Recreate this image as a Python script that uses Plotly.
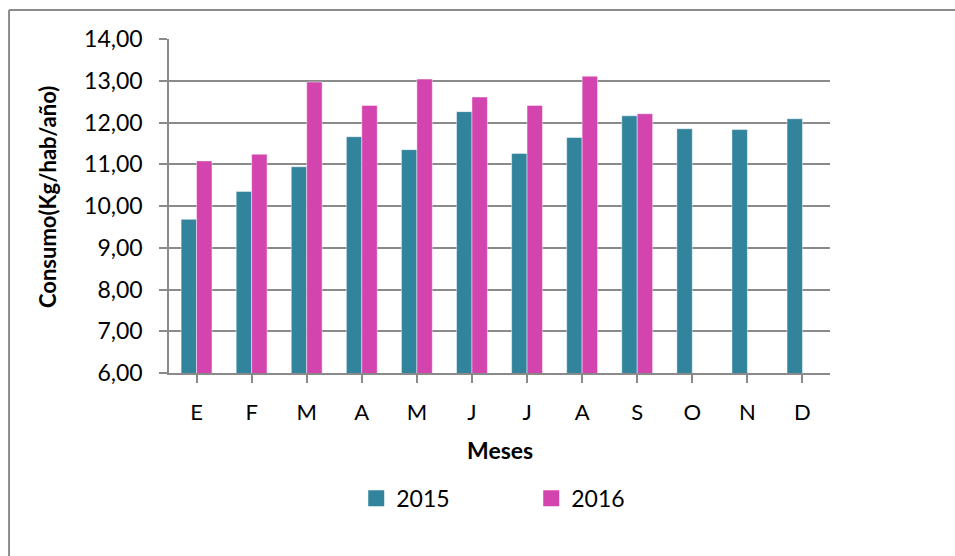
import plotly.graph_objects as go

months = ["E", "F", "M", "A", "M", "J", "J", "A", "S", "O", "N", "D"]
cat_ids = list(range(12))
vals_2015 = [9.68, 10.35, 10.94, 11.66, 11.35, 12.26, 11.26, 11.64, 12.16, 11.85, 11.83, 12.09]
vals_2016 = [11.08, 11.24, 12.97, 12.41, 13.04, 12.61, 12.41, 13.11, 12.21, None, None, None]
y_ticks = [6, 7, 8, 9, 10, 11, 12, 13, 14]
series_names = ["2015", "2016"]

TEAL = "#31849B"
MAGENTA = "#D444AE"
GRID = "#8A8A8A"
FONT = "Lato"

fig = go.Figure()
for name, vals, col in zip(series_names, [vals_2015, vals_2016], [TEAL, MAGENTA]):
    fig.add_trace(go.Bar(x=cat_ids, y=vals, name=name, showlegend=False, legendgroup=name,
                         marker=dict(color=col, line=dict(color="rgba(255,255,255,0.45)", width=1))))
for name, col in zip(series_names, [TEAL, MAGENTA]):
    fig.add_trace(go.Scatter(x=[None], y=[None], mode="markers", name=name, legendgroup=name,
                             marker=dict(symbol="square", size=17, color=col)))

fig.update_layout(
    width=955, height=556,
    margin=dict(l=169, r=125, t=39, b=183),
    paper_bgcolor="white", plot_bgcolor="white",
    separators=",.",
    barmode="group", bargap=0.44, bargroupgap=0,
    font=dict(family=FONT, color="#000000", size=22),
    showlegend=True,
    legend=dict(orientation="h", x=0.548, xanchor="center", y=-0.375, yanchor="middle",
                font=dict(family=FONT, size=23), entrywidth=130, entrywidthmode="pixels",
                itemwidth=30, bgcolor="rgba(0,0,0,0)"),
    xaxis=dict(
        tickmode="array", tickvals=cat_ids, ticktext=months,
        range=[-0.5, 11.5],
        showline=True, linecolor=GRID, linewidth=1.5,
        ticks="outside", ticklen=8, tickcolor=GRID, tickwidth=1.5,
        showgrid=False, zeroline=False,
        tickson="boundaries",
        ticklabelstandoff=11,
        tickfont=dict(family=FONT, size=22),
    ),
    yaxis=dict(
        range=[6, 14], tickvals=y_ticks, tickformat=".2f",
        showline=True, linecolor=GRID, linewidth=1.5,
        ticks="outside", ticklen=8, tickcolor=GRID, tickwidth=1.5,
        showgrid=True, gridcolor=GRID, gridwidth=1.5,
        zeroline=False,
        ticklabelstandoff=12,
        tickfont=dict(family=FONT, size=23),
    ),
    annotations=[
        dict(text="<b>Meses</b>", xref="paper", yref="paper", x=0.5, y=-0.232,
             showarrow=False, font=dict(family=FONT, size=23), xanchor="center", yanchor="middle"),
        dict(text="<b>Consumo(Kg/hab/año)</b>", xref="paper", yref="paper", x=-0.183, y=0.527,
             showarrow=False, textangle=-90, font=dict(family=FONT, size=22),
             xanchor="center", yanchor="middle"),
    ],
    shapes=[
        dict(type="line", xref="paper", yref="paper", x0=-0.242, x1=1.25, y0=1.0868, y1=1.0868,
             line=dict(color="#8C8C8C", width=2)),
        dict(type="line", xref="paper", yref="paper", x0=-0.242, x1=-0.242, y0=1.0868, y1=-0.6,
             line=dict(color="#8C8C8C", width=2)),
    ],
)

fig.write_html("out.html", config={"displayModeBar": False},
               post_script="document.body.style.margin='0';")
